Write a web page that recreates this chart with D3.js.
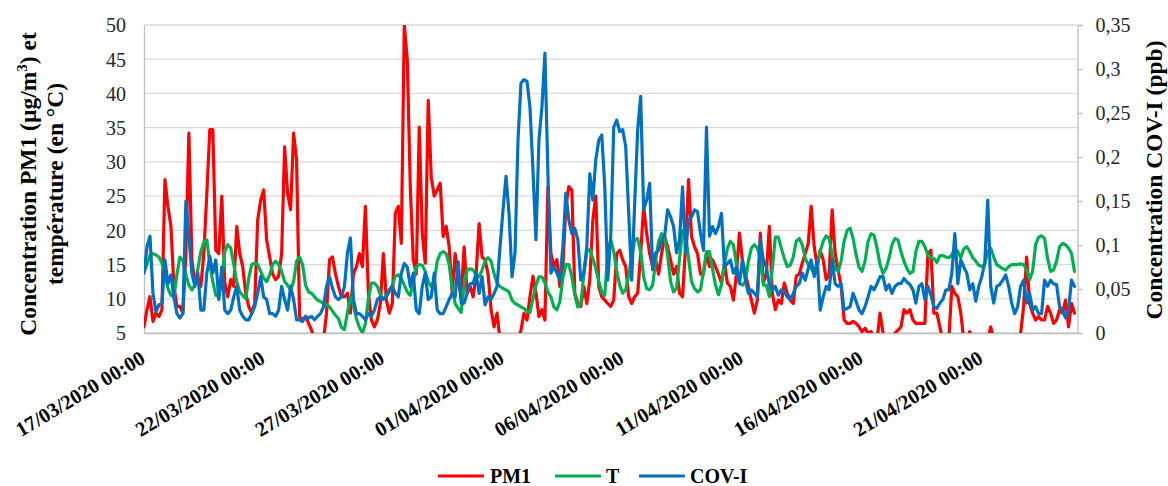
<!DOCTYPE html>
<html><head><meta charset="utf-8">
<script src="https://cdn.jsdelivr.net/npm/d3@7"></script>
<style>html,body{margin:0;padding:0;background:#fff;} svg{display:block;}</style>
</head><body>
<svg id="chart" width="1168" height="486"></svg>
<script>
// ---- data (3-hour steps starting 17/03/2020 00:00) ----
const startTime = Date.UTC(2020, 2, 17, 0, 0);
const stepHours = 3;
const pm1 = [
5.9,8.4,10.3,6.7,7.9,7.4,8.4,27.4,23.5,20.6,
11.8,8.9,8.9,7.9,16.6,34.2,15.7,12.3,12.8,11.8,
16.6,25.4,34.7,34.7,17.1,16.6,25,12.3,10.3,12.8,
11.8,20.6,16.6,14.7,10.8,8.9,7.9,9.3,21.5,24.4,
25.9,18.6,16.1,13.6,12.8,13.3,16.6,32.2,25.4,23,
34.2,30.3,7.4,6.9,7.4,6.4,5.4,4,4,4,
4,7.9,15.7,16.1,13.6,11.8,10.3,10.3,10.8,7.9,
13.6,14.7,16.6,14.7,23.5,10.8,6.9,5.9,6.9,9.3,
16.6,9.8,7.9,9.3,22.5,23.5,18.1,50,44.9,26.4,
15.7,13.6,35.1,19.6,15.2,39,27.8,25,25.9,26.9,
19.1,20.6,17.6,10.8,16.6,12.8,10.3,17.6,10.8,11.8,
10.3,13.6,21,16.1,15.7,13.6,8.4,5.9,7.9,4,
4,4,4,4,4,4,5.4,7.9,6.9,10.3,
13.3,10.8,7.4,8.4,6.9,26.4,16.6,14.7,15.7,11.8,
14.7,23.5,26.4,25.9,10.8,9.3,8.9,11.8,9.3,12.8,
21.5,25,11.8,10.3,9.8,9.3,8.9,9.8,16.6,17.1,
15.7,14.7,10.3,9.3,10.3,10.8,16.6,23.5,19.6,16.6,
14.7,15.7,13.6,16.6,19.1,17.6,15.7,13.6,14.7,10.8,
10.3,17.6,27.4,19.1,17.6,16.6,13.6,13.6,16.6,14.7,
15.7,14.7,13.6,12.3,15.2,12.3,11.8,9.8,13.6,19.6,
15.7,13.6,11.8,9.8,7.9,9.8,19.6,12.3,13.6,20.6,
10.8,8.4,9.8,9.3,12.3,10.8,9.8,9.3,13.3,13.6,
15.2,16.6,18.1,23.5,17.6,14.7,17.1,15.7,12.8,13.6,
23,16.6,14.2,11.8,6.9,6.4,6.4,6.7,6.4,5.9,
5.2,5.7,5,5.2,4,4,7.9,5,4,4,
4,5,5.4,5.9,8.4,7.9,8.4,6.9,6.4,6.4,
6.4,6.4,16.6,17.1,7.9,7.9,5.9,4,4,4,
11.8,10.8,10.3,7.9,4,4,5.2,4,4,4,
4,4,4,5.9,4,4,4,4,4,4,
4,4,4,5,8.9,16.1,9.3,7.9,6.9,7.4,
6.9,6.9,8.9,7.9,6.4,6.9,8.4,7.9,9.8,5.9,
9.3,7.9
];
const temp = [
13.9,15,16.4,16.6,16.4,16.1,15.2,13.5,11.5,10.5,
10.3,13.5,16.1,15.6,13.5,12,11.3,12,14.4,16.9,
18.3,18.6,15,12.5,10.5,10.3,12.5,16.9,17.9,17.4,
15,12.5,11,10.5,10,13,15,15.2,15,14,
13,12.5,13.5,15,15.5,15,14,12.5,12,11.3,
12.5,15.5,16.1,15,12,11,10.8,10.3,9.8,9.6,
9.3,9.2,8.8,8.2,7.6,7.1,5.8,5.5,8,10.3,
9.1,7.1,5.8,5,6.3,10,12.3,12.3,11.8,10.5,
10,10.5,11,12,13.3,13.5,13,12,11,10.5,
12.5,14.7,15,14.9,14,12.5,11.8,12.5,15.5,16.6,
16.9,16.6,15,11.5,9.3,8.6,8,12,14.2,14.4,
14.2,13.5,13.2,14.2,15.5,16,15.5,13.7,12.3,11.8,
11.5,11.3,11,9.8,9.3,9.1,8.8,8.6,8.2,8,
10,12,13.2,13.2,12.3,11,10.3,8.8,8.4,9.6,
13,15,15,13.2,10.5,8.8,9.3,13.5,16.9,17.2,
15.9,14.4,12.5,11,10.5,16.9,18.6,16.9,14,12,
10.8,11.3,13.5,16.1,18.6,18.8,16.9,13.2,11.5,11.3,
12,15.5,18.4,19.5,19,16.4,12.5,11,11.5,15.9,
20,19.5,15.9,12.5,11.5,11,11.3,14,16.9,16.9,
14.4,12,10.6,12,15,17.4,18.4,17.9,15,12.3,
12,12.5,15.5,17.4,17.9,17.4,15.9,12,12,10.3,
14.4,19,19,17.4,15.9,14.7,14.9,16.1,18.4,18.8,
17.9,15.9,15,14.4,13.7,15,16.9,18.4,19.2,18.8,
16.4,14.4,14,15.5,18.4,20,20.3,18.8,16.4,14.6,
14,15.5,18.4,19.5,19.3,17.4,15,13.7,14.4,15.9,
17.9,18.8,18.6,16.9,15.5,14.4,13.7,14,16.9,18.4,
18.4,17.6,16.4,16,15.9,15.3,16.3,16.3,16.1,16,
16.4,17.4,16.9,16,17.3,17.6,16.9,16,15.5,14.9,
14.7,15.1,16.9,17.4,16.1,15,14.7,14.4,14.2,14.7,
15,15,15,15.1,15,14.2,12.8,14,17.9,19,
19.2,18.8,15.9,14,14.2,15.5,17.6,18.1,17.9,17.4,
16.6,14
];
const cov = [
0.068,0.098,0.11,0.045,0.024,0.032,0.034,0.083,0.056,0.066,
0.041,0.022,0.017,0.022,0.15,0.11,0.068,0.053,0.068,0.026,
0.026,0.068,0.087,0.068,0.083,0.038,0.075,0.026,0.022,0.026,
0.041,0.053,0.026,0.019,0.015,0.015,0.022,0.03,0.045,0.064,
0.041,0.038,0.022,0.022,0.019,0.026,0.053,0.038,0.026,0.053,
0.038,0.015,0.015,0.013,0.019,0.017,0.019,0.015,0.019,0.022,
0.03,0.053,0.064,0.051,0.041,0.038,0.041,0.053,0.091,0.108,
0.038,0.022,0.022,0.019,0.015,0.022,0.019,0.026,0.038,0.041,
0.038,0.041,0.049,0.053,0.045,0.041,0.068,0.079,0.075,0.053,
0.068,0.026,0.022,0.053,0.068,0.038,0.041,0.068,0.026,0.022,
0.022,0.03,0.038,0.045,0.041,0.081,0.034,0.034,0.045,0.056,
0.056,0.068,0.045,0.064,0.032,0.041,0.038,0.045,0.053,0.098,
0.14,0.178,0.136,0.064,0.091,0.219,0.284,0.288,0.286,0.257,
0.185,0.106,0.219,0.257,0.318,0.181,0.068,0.075,0.068,0.06,
0.098,0.159,0.128,0.113,0.119,0.106,0.06,0.068,0.098,0.181,
0.151,0.197,0.219,0.225,0.166,0.06,0.11,0.234,0.242,0.229,
0.231,0.212,0.136,0.06,0.147,0.231,0.269,0.14,0.151,0.17,
0.072,0.091,0.094,0.106,0.11,0.14,0.132,0.121,0.091,0.106,
0.166,0.091,0.128,0.132,0.14,0.138,0.113,0.094,0.234,0.11,
0.121,0.113,0.121,0.136,0.075,0.079,0.083,0.068,0.075,0.056,
0.083,0.06,0.045,0.049,0.045,0.041,0.106,0.083,0.075,0.055,
0.049,0.053,0.043,0.049,0.047,0.041,0.038,0.045,0.053,0.056,
0.068,0.06,0.073,0.083,0.064,0.083,0.026,0.041,0.053,0.049,
0.083,0.056,0.053,0.056,0.026,0.028,0.03,0.045,0.036,0.026,
0.022,0.03,0.041,0.053,0.049,0.056,0.064,0.064,0.049,0.055,
0.045,0.053,0.056,0.056,0.062,0.058,0.055,0.049,0.034,0.053,
0.056,0.038,0.053,0.043,0.03,0.028,0.034,0.038,0.049,0.049,
0.068,0.113,0.056,0.083,0.075,0.068,0.049,0.056,0.036,0.053,
0.064,0.079,0.151,0.053,0.034,0.053,0.055,0.06,0.066,0.053,
0.034,0.022,0.03,0.053,0.06,0.034,0.045,0.026,0.03,0.022,
0.022,0.06,0.053,0.06,0.056,0.055,0.03,0.026,0.017,0.026,
0.06,0.053
];
const leftTicks = [5,10,15,20,25,30,35,40,45,50];
const rightTicks = [0,0.05,0.1,0.15,0.2,0.25,0.3,0.35];
const rightTickLabels = ["0","0,05","0,1","0,15","0,2","0,25","0,3","0,35"];
const xTickDays = [0,5,10,15,20,25,30,35];
const xTickLabels = ["17/03/2020 00:00","22/03/2020 00:00","27/03/2020 00:00","01/04/2020 00:00",
                     "06/04/2020 00:00","11/04/2020 00:00","16/04/2020 00:00","21/04/2020 00:00"];
const seriesNames = ["PM1","T","COV-I"];
const axisDays = 39;

// ---- drawing ----
const FONT = "'Liberation Serif','Times New Roman',serif";
const colors = {"PM1":"#ff0000","T":"#00b050","COV-I":"#0070c0"};
const svg = d3.select("#chart");
const P = {l:144, r:1077.5, t:25, b:333};
const DAY = 86400000;
const x = d3.scaleUtc().domain([new Date(startTime), new Date(startTime + axisDays*DAY)]).range([P.l, P.r]);
const yL = d3.scaleLinear().domain([5,50]).range([P.b, P.t]);
const yR = d3.scaleLinear().domain([0,0.35]).range([P.b, P.t]);
const tAt = i => new Date(startTime + i*stepHours*3600000);

// gridlines
svg.append("g").selectAll("line").data(leftTicks).join("line")
  .attr("x1",P.l).attr("x2",P.r).attr("y1",d=>yL(d)).attr("y2",d=>yL(d))
  .attr("stroke","#d9d9d9").attr("stroke-width",1.3);

// left axis
const gL = svg.append("g").attr("transform",`translate(${P.l},0)`)
  .call(d3.axisLeft(yL).tickValues(leftTicks).tickSize(0).tickPadding(18));
gL.select(".domain").attr("stroke","#bfbfbf").attr("stroke-width",1.3);
gL.selectAll("text").attr("font-family",FONT).attr("font-size",20).attr("fill","#262626").attr("dy","0.34em");

// right axis
const gR = svg.append("g").attr("transform",`translate(${P.r},0)`)
  .call(d3.axisRight(yR).tickValues(rightTicks).tickSize(5).tickPadding(13)
    .tickFormat((d,i)=>rightTickLabels[i]));
gR.select(".domain").attr("stroke","#bfbfbf").attr("stroke-width",1.3);
gR.selectAll(".tick line").attr("stroke","#bfbfbf").attr("stroke-width",1.3);
gR.selectAll("text").attr("font-family",FONT).attr("font-size",20).attr("fill","#262626").attr("dy","0.34em");

// bottom axis
const gB = svg.append("g").attr("transform",`translate(0,${P.b})`)
  .call(d3.axisBottom(x).tickValues(xTickDays.map(d=>new Date(startTime + d*DAY)))
    .tickSize(0).tickFormat((d,i)=>xTickLabels[i]));
gB.select(".domain").attr("stroke","#bfbfbf").attr("stroke-width",1.3);
gB.selectAll("text").attr("font-family",FONT).attr("font-size",20.5).attr("font-weight","bold")
  .attr("fill","#000").attr("y",null).attr("dy",null).attr("x",null)
  .attr("text-anchor","end").attr("transform","translate(2,29) rotate(-31)");

// clip
svg.append("clipPath").attr("id","clip").append("rect")
  .attr("x",P.l).attr("y",P.t).attr("width",P.r-P.l).attr("height",P.b-P.t);

const lineL = d3.line().x((d,i)=>x(tAt(i))).y(d=>yL(d));
const lineR = d3.line().x((d,i)=>x(tAt(i))).y(d=>yR(d));
const gLines = svg.append("g").attr("clip-path","url(#clip)");
[[pm1,lineL,"PM1"],[temp,lineL,"T"],[cov,lineR,"COV-I"]].forEach(([data,gen,name])=>{
  gLines.append("path").datum(data).attr("d",gen).attr("fill","none")
    .attr("stroke",colors[name]).attr("stroke-width",3.2)
    .attr("stroke-linejoin","round").attr("stroke-linecap","round");
});

// axis titles
const tL = svg.append("text").attr("transform","translate(0,184) rotate(-90)")
  .attr("font-family",FONT).attr("font-size",23.5).attr("font-weight","bold").attr("text-anchor","middle");
tL.append("tspan").attr("x",0).attr("y",36).text("Concentration PM1 (µg/m")
  .append("tspan").attr("font-size",15).attr("dy",-9).text("3");
tL.append("tspan").attr("dy",9).text(") et");
tL.append("tspan").attr("x",0).attr("y",63).text("température (en °C)");

svg.append("text").attr("transform","translate(1162,180) rotate(-90)")
  .attr("font-family",FONT).attr("font-size",23.5).attr("font-weight","bold").attr("text-anchor","middle")
  .text("Concentration COV-I (ppb)");

// legend
const legendPos = [{line:438,text:490},{line:555,text:606},{line:639,text:690}];
const lg = svg.append("g");
seriesNames.forEach((n,i)=>{
  const p = legendPos[i];
  lg.append("line").attr("x1",p.line).attr("x2",p.line+46).attr("y1",476).attr("y2",476)
    .attr("stroke",colors[n]).attr("stroke-width",3.2);
  lg.append("text").attr("x",p.text).attr("y",483).attr("font-family",FONT).attr("font-size",20)
    .attr("font-weight","bold").text(n);
});
</script>
</body></html>
